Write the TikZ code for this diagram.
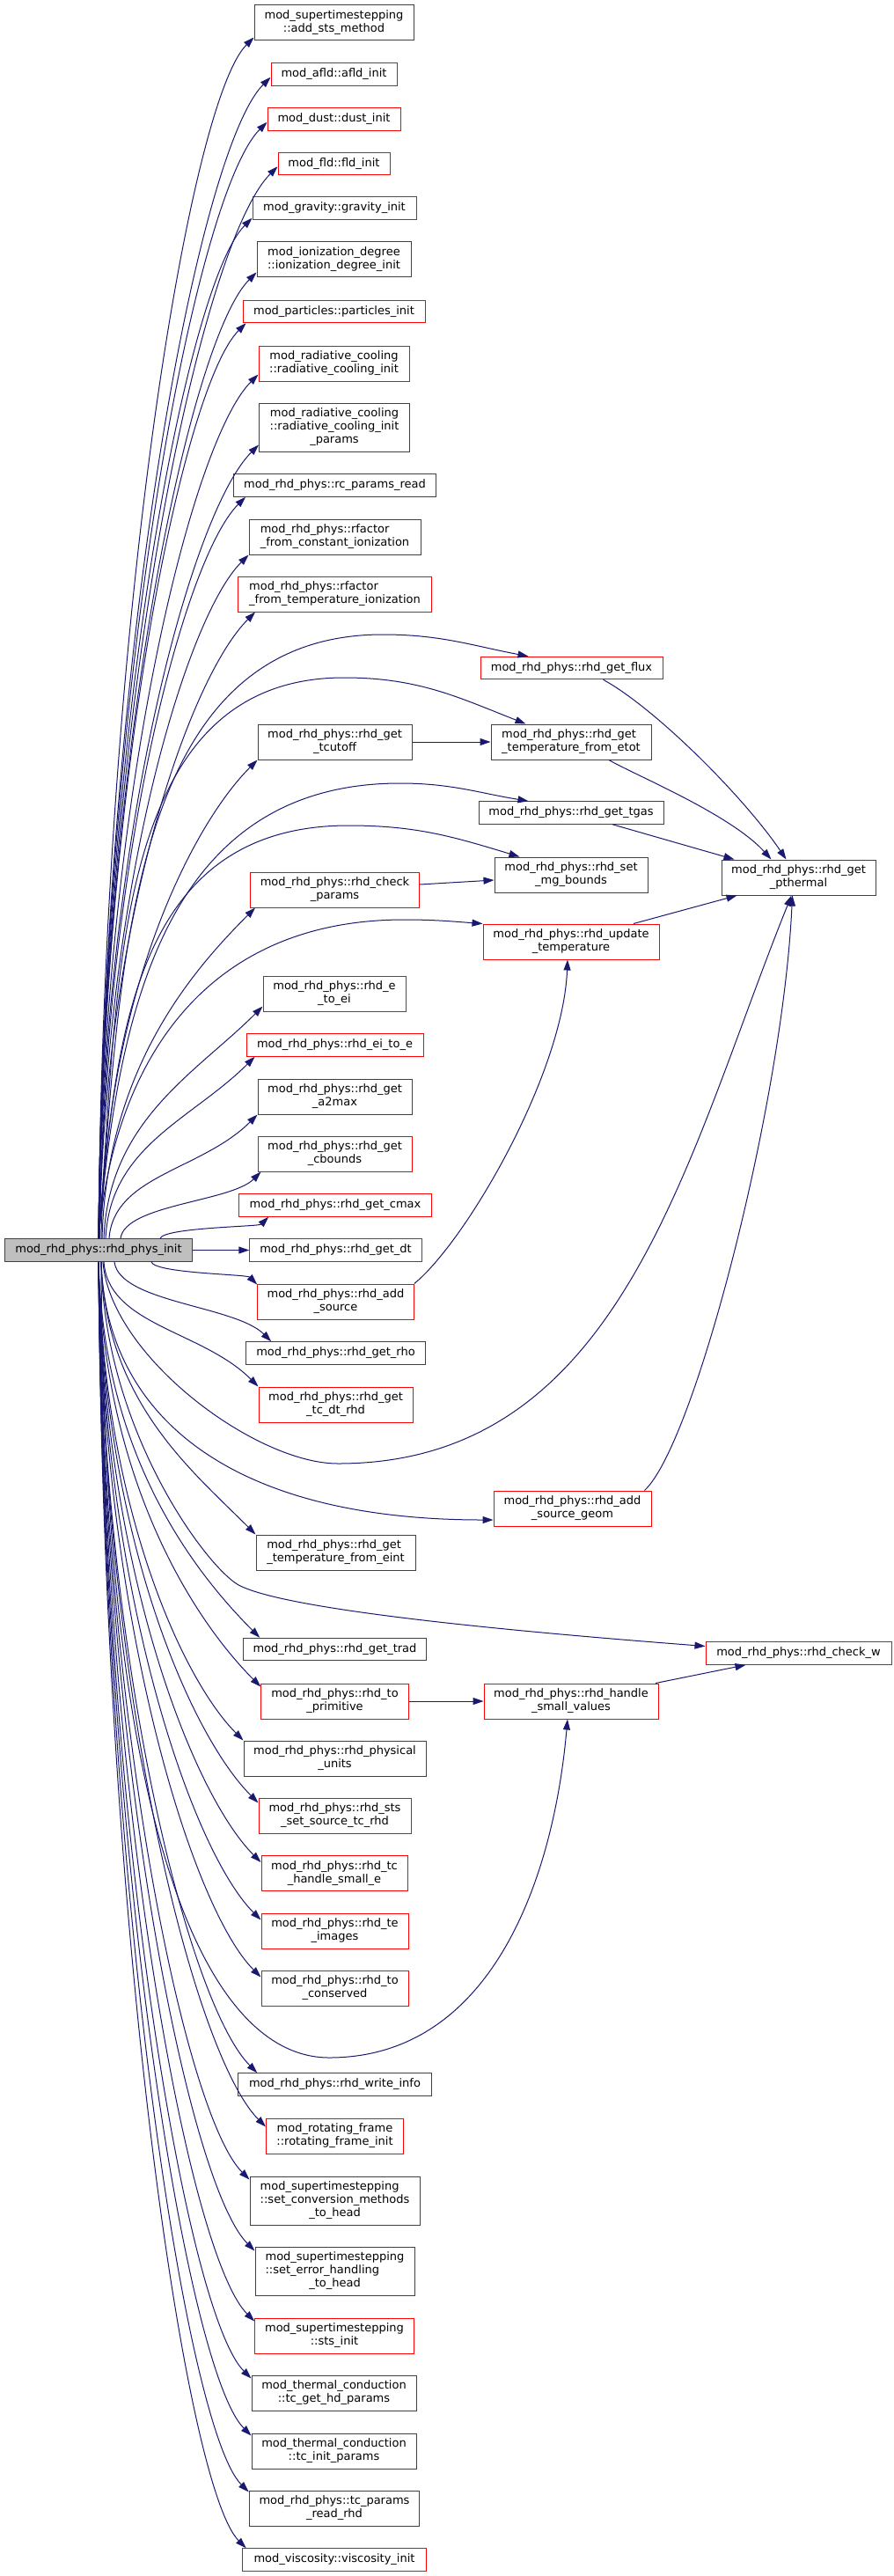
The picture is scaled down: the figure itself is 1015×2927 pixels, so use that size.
\documentclass[tikz,border=0pt]{standalone}
\usepackage{fontspec}
\setmainfont{DejaVu Sans}
\usetikzlibrary{arrows.meta,calc}
\definecolor{edgec}{HTML}{191970}
\definecolor{bk}{HTML}{404040}
\definecolor{rootfill}{HTML}{BFBFBF}
\tikzset{
  box/.style={draw, line width=1pt, inner sep=0pt, align=center, font=\fontsize{13}{15}\selectfont},
  bn/.style={box, draw=bk},
  rn/.style={box, draw=red},
  e/.style={draw=edgec, color=edgec, line width=1pt, -{Triangle[length=12pt,width=8pt]}}
}
\newcommand\nd[7]{\node[#1,minimum width=#5pt,minimum height=#6pt] (#2) at (#3,-#4) {#7};}
\newcommand\upe[2]{\draw[e] let \p1=([xshift=#1pt]root.north), \p2=(#2), \n1={\x2-\x1}, \n2={\y2-\y1}, \n3={min(0.42*\n1,0.45*\n2)} in (\p1) .. controls ($(\p1)+(0.03*\n1,0.51*\n2)$) and ($(\p2)+(-\n3,-\n3)$) .. (\p2);}
\newcommand\dne[2]{\draw[e] let \p1=([xshift=#1pt]root.south), \p2=(#2), \n1={\x2-\x1}, \n2={\y1-\y2}, \n3={min(0.42*\n1,0.45*\n2)} in (\p1) .. controls ($(\p1)+(0.03*\n1,-0.51*\n2)$) and ($(\p2)+(-\n3,\n3)$) .. (\p2);}
\begin{document}
\begin{tikzpicture}[x=1pt,y=1pt]
\fill[white] (0,0) rectangle (1015,-2927);
\useasboundingbox (0,0) rectangle (1015,-2927);
% root
\node[box, draw=bk, fill=rootfill, minimum width=213.4pt, minimum height=25.5pt] (root) at (112,-1420.5) {mod\_rhd\_phys::rhd\_phys\_init};
% middle column
\nd{bn}{stsadd}{379.5}{26}{181}{40}{mod\_supertimestepping\\::add\_sts\_method}
\nd{rn}{afld}{379.5}{84.5}{143}{25.5}{mod\_afld::afld\_init}
\nd{rn}{dust}{379.5}{135.5}{151}{25.5}{mod\_dust::dust\_init}
\nd{rn}{fld}{379.5}{186}{127}{25.5}{mod\_fld::fld\_init}
\nd{rn}{gravity}{380}{236.5}{186}{25.5}{mod\_gravity::gravity\_init}
\nd{bn}{ioniz}{379.5}{295}{175}{40}{mod\_ionization\_degree\\::ionization\_degree\_init}
\nd{rn}{particles}{379.5}{354}{207}{25.5}{mod\_particles::particles\_init}
\nd{rn}{radcool}{379.5}{413}{171}{40}{mod\_radiative\_cooling\\::radiative\_cooling\_init}
\nd{bn}{radparams}{380}{485.5}{171}{55}{mod\_radiative\_cooling\\::radiative\_cooling\_init\\\_params}
\nd{bn}{rcparams}{380.5}{551.5}{230}{25.5}{mod\_rhd\_phys::rc\_params\_read}
\nd{bn,align=left}{rconst}{380.5}{610}{195}{40}{mod\_rhd\_phys::rfactor\\\_from\_constant\_ionization}
\nd{rn,align=left}{rtemp}{380.5}{675}{220}{40}{mod\_rhd\_phys::rfactor\\\_from\_temperature\_ionization}
\nd{bn}{tcutoff}{380.5}{843}{175}{40}{mod\_rhd\_phys::rhd\_get\\\_tcutoff}
\nd{rn}{checkp}{380.5}{1011}{192}{40}{mod\_rhd\_phys::rhd\_check\\\_params}
\nd{rn}{etoei}{380}{1129}{162}{40}{mod\_rhd\_phys::rhd\_e\\\_to\_ei}
\nd{rn}{eitoe}{380.5}{1187.5}{201}{25.5}{mod\_rhd\_phys::rhd\_ei\_to\_e}
\nd{bn}{a2max}{380.5}{1246}{175}{40}{mod\_rhd\_phys::rhd\_get\\\_a2max}
\nd{rn}{cbounds}{380.5}{1311}{175}{40}{mod\_rhd\_phys::rhd\_get\\\_cbounds}
\nd{rn}{cmax}{381}{1369.5}{218.6}{25.5}{mod\_rhd\_phys::rhd\_get\_cmax}
\nd{rn}{getdt}{381.5}{1420.5}{195.5}{25.5}{mod\_rhd\_phys::rhd\_get\_dt}
\nd{rn}{addsrc}{381.5}{1479}{177.6}{40}{mod\_rhd\_phys::rhd\_add\\\_source}
\nd{bn}{rho}{381.5}{1537.5}{203.6}{25.5}{mod\_rhd\_phys::rhd\_get\_rho}
\nd{rn}{tcdt}{381.5}{1596}{175}{40}{mod\_rhd\_phys::rhd\_get\\\_tc\_dt\_rhd}
\nd{bn,align=left}{teint}{381.5}{1764}{181}{40}{mod\_rhd\_phys::rhd\_get\\\_temperature\_from\_eint}
\nd{bn}{trad}{380.5}{1874}{207.5}{25.5}{mod\_rhd\_phys::rhd\_get\_trad}
\nd{rn}{toprim}{380.5}{1933}{167.5}{40}{mod\_rhd\_phys::rhd\_to\\\_primitive}
\nd{bn}{phys}{380.5}{1998}{207}{40}{mod\_rhd\_phys::rhd\_physical\\\_units}
\nd{rn}{stsset}{380.5}{2063}{173}{40}{mod\_rhd\_phys::rhd\_sts\\\_set\_source\_tc\_rhd}
\nd{rn}{tchandle}{380}{2128.5}{166}{40}{mod\_rhd\_phys::rhd\_tc\\\_handle\_small\_e}
\nd{rn}{teimg}{380.5}{2194}{167}{40}{mod\_rhd\_phys::rhd\_te\\\_images}
\nd{rn}{tocons}{380.5}{2259}{167}{40}{mod\_rhd\_phys::rhd\_to\\\_conserved}
\nd{bn}{winfo}{380.5}{2368.5}{219.5}{25.5}{mod\_rhd\_phys::rhd\_write\_info}
\nd{rn}{rotframe}{380.5}{2427}{156}{40}{mod\_rotating\_frame\\::rotating\_frame\_init}
\nd{bn}{setconv}{380.5}{2500.5}{193}{55}{\rlap{mod\_supertimestepping}\phantom{::set\_conversion\_methods}\\::set\_conversion\_methods\\\_to\_head}
\nd{bn}{seterr}{380.5}{2580.5}{181}{55}{mod\_supertimestepping\\\rlap{::set\_error\_handling}\phantom{mod\_supertimestepping}\\\_to\_head}
\nd{rn}{stsinit}{380}{2654}{180.6}{40}{mod\_supertimestepping\\::sts\_init}
\nd{bn}{tcgethd}{379.5}{2719}{187}{40}{mod\_thermal\_conduction\\::tc\_get\_hd\_params}
\nd{bn}{tcinit}{379.5}{2785}{187}{40}{mod\_thermal\_conduction\\::tc\_init\_params}
\nd{bn}{tcread}{380}{2850}{193.7}{40}{mod\_rhd\_phys::tc\_params\\\_read\_rhd}
\nd{rn}{visc}{380}{2908.5}{209.7}{25.5}{mod\_viscosity::viscosity\_init}
% third column
\nd{rn}{flux}{649.5}{759}{207}{25.5}{mod\_rhd\_phys::rhd\_get\_flux}
\nd{bn,align=left}{tetot}{649}{843}{182}{40}{mod\_rhd\_phys::rhd\_get\\\_temperature\_from\_etot}
\nd{bn}{tgas}{649}{923.5}{210}{25.5}{mod\_rhd\_phys::rhd\_get\_tgas}
\nd{bn}{mgb}{649}{994}{174}{40}{mod\_rhd\_phys::rhd\_set\\\_mg\_bounds}
\nd{rn}{updt}{649}{1070}{200}{40}{mod\_rhd\_phys::rhd\_update\\\_temperature}
\nd{rn}{geom}{650.5}{1714}{179}{40}{mod\_rhd\_phys::rhd\_add\\\_source\_geom}
\nd{rn}{hsv}{649}{1933}{198}{40}{mod\_rhd\_phys::rhd\_handle\\\_small\_values}
% fourth column
\nd{bn}{pth}{907.5}{997}{175}{40}{mod\_rhd\_phys::rhd\_get\\\_pthermal}
\nd{rn}{chkw}{907.5}{1878.5}{211}{25.5}{mod\_rhd\_phys::rhd\_check\_w}
% edges upward
\upe{0}{[yshift=4pt]stsadd.south west}
\upe{0}{[yshift=10pt]afld.south west}
\upe{0}{[yshift=10pt]dust.south west}
\upe{0}{[yshift=10pt]fld.south west}
\upe{0}{[yshift=2pt]gravity.south west}
\upe{0}{[yshift=6pt]ioniz.south west}
\upe{0}{[xshift=4pt]particles.south west}
\upe{0}{[yshift=8pt]radcool.south west}
\upe{0}{[yshift=8pt]radparams.south west}
\upe{1}{[xshift=14pt]rcparams.south west}
\upe{1}{rconst.south west}
\upe{1}{[xshift=20pt]rtemp.south west}
\upe{3}{tcutoff.south west}
\upe{4}{[xshift=6pt]checkp.south west}
\upe{6}{[yshift=6pt]etoei.south west}
\upe{8}{[xshift=10pt]eitoe.south west}
\upe{12}{a2max.south west}
\upe{25}{[xshift=4pt]cbounds.south west}
\upe{70}{[xshift=34pt]cmax.south west}
% arched edges to third column
\draw[e] (root.north) .. controls (138,-1113) and (139,-721) .. (435,-721) .. controls (501,-721) and (536,-733.5) .. ([xshift=55pt]flux.north west);
\draw[e] (root.north) .. controls (136,-1137) and (119,-770) .. (391,-770) .. controls (475,-770) and (520,-792) .. ([xshift=40pt]tetot.north west);
\draw[e] (root.north) .. controls (133,-1166) and (180,-890) .. (454.6,-890) .. controls (512.6,-890) and (544,-901) .. ([xshift=57pt]tgas.north west);
\draw[e] (root.north) .. controls (131,-1193) and (146,-938) .. (396,-938) .. controls (474,-938) and (516,-951) .. ([xshift=29pt]mgb.north west);
\draw[e] (root.north) .. controls (129,-1211) and (229.5,-1045) .. (459.5,-1045) .. controls (494.5,-1045) and (514,-1047) .. (updt.north west);
% root to get_dt
\draw[e] (root.east) -- (getdt.west);
% edges downward
\dne{60}{[yshift=-1pt]addsrc.north west}
\dne{18}{[xshift=29pt]rho.north west}
\dne{6}{tcdt.north west}
\dne{3}{teint.north west}
\dne{0}{[xshift=19pt]trad.north west}
\dne{0}{[yshift=-4pt]toprim.north west}
\dne{0}{phys.north west}
\dne{0}{[yshift=-6pt]stsset.north west}
\dne{0}{[yshift=-8pt]tchandle.north west}
\dne{0}{[yshift=-8pt]teimg.north west}
\dne{0}{[yshift=-8pt]tocons.north west}
\dne{0}{[xshift=22pt]winfo.north west}
\dne{0}{[yshift=-10pt]rotframe.north west}
\dne{0}{[yshift=-4pt]setconv.north west}
\dne{0}{[yshift=-5pt]seterr.north west}
\dne{0}{[yshift=-4pt]stsinit.north west}
\dne{0}{[yshift=-4pt]tcgethd.north west}
\dne{0}{[yshift=-3pt]tcinit.north west}
\dne{0}{[yshift=-2pt]tcread.north west}
\dne{0}{[xshift=5pt]visc.north west}
% long edges below root
\draw[e] ([xshift=5pt]root.south) .. controls (125,-1540) and (290,-1663) .. (384,-1663) .. controls (707,-1663) and (779,-1316) .. ([xshift=-8pt]pth.south);
\draw[e] ([xshift=3pt]root.south) .. controls (120,-1600) and (250,-1727) .. ([yshift=-13pt]geom.west);
\draw[e] ([xshift=3pt]root.south) .. controls (118,-1620) and (230,-1775) .. (269.5,-1800) .. controls (320,-1830) and (600,-1855) .. ([yshift=8pt]chkw.west);
\draw[e] ([xshift=3pt]root.south) .. controls (118,-2100) and (240,-2338) .. (374,-2338) .. controls (558,-2338) and (629,-2136) .. ([xshift=-4pt]hsv.south);
% other edges
\draw[e] (tcutoff.east) -- (tetot.west);
\draw[e] ([yshift=6pt]checkp.east) -- ([yshift=-6pt]mgb.west);
\draw[e] ([xshift=36pt]flux.south) .. controls (745,-805) and (845,-905) .. ([xshift=-14pt]pth.north);
\draw[e] ([xshift=43pt]tetot.south) .. controls (720,-880) and (830,-925) .. ([xshift=-31pt]pth.north);
\draw[e] ([xshift=47pt]tgas.south) -- ([xshift=-73pt]pth.north);
\draw[e] ([xshift=71pt]updt.north) -- ([xshift=-70pt]pth.south);
\draw[e] (addsrc.north east) .. controls (530,-1410) and (640,-1220) .. ([xshift=-4pt]updt.south);
\draw[e] ([xshift=82pt]geom.north) .. controls (790,-1640) and (890,-1250) .. ([xshift=-7pt]pth.south);
\draw[e] (toprim.east) -- (hsv.west);
\draw[e] ([xshift=96pt]hsv.north) -- ([xshift=-60pt]chkw.south);
\end{tikzpicture}
\end{document}
